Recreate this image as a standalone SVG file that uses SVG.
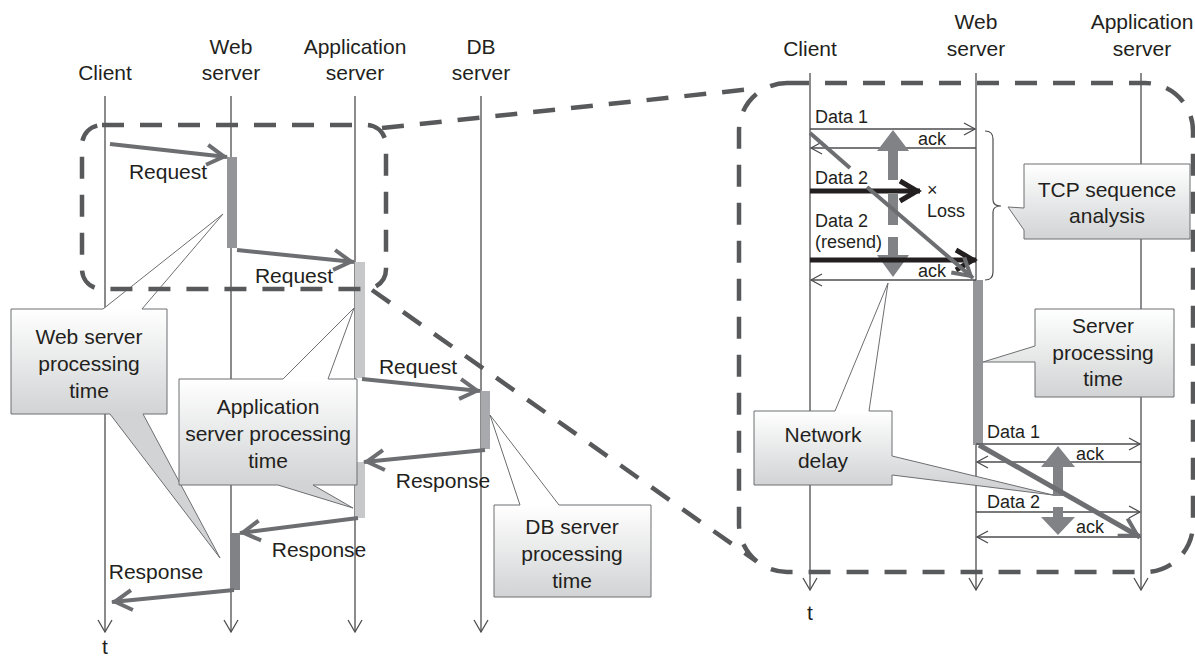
<svg xmlns="http://www.w3.org/2000/svg" width="1195" height="659" viewBox="0 0 1195 659">
<style>
.life{stroke:#4d4d4f;stroke-width:1.3;fill:none;marker-end:url(#mLife)}
.dash{stroke:#58595b;stroke-width:4.5;fill:none;stroke-dasharray:22 16}
.arr{stroke:#6d6e71;stroke-width:4;fill:none;marker-end:url(#mThick)}
.thin{stroke:#4d4d4f;stroke-width:1.3;fill:none;marker-end:url(#mThin)}
.blk{stroke:#231f20;stroke-width:5;fill:none;marker-end:url(#mBlk)}
.dbl{fill:#808285;stroke:none}
.callout{stroke:#6d6e71;stroke-width:1}
.t{font-family:"Liberation Sans",Arial,sans-serif;font-size:21px;fill:#231f20;text-anchor:middle}
.s{font-size:18px;text-anchor:start}
.e{text-anchor:end}
</style>
<defs>
<marker id="mLife" markerUnits="userSpaceOnUse" markerWidth="30" markerHeight="30" viewBox="-25 -15 30 30" refX="0" refY="0" orient="auto" overflow="visible"><path d="M-12,-7 L0,0 L-12,7" fill="none" stroke="#4d4d4f" stroke-width="1.3"/></marker>
<marker id="mThin" markerUnits="userSpaceOnUse" markerWidth="30" markerHeight="30" viewBox="-25 -15 30 30" refX="0" refY="0" orient="auto" overflow="visible"><path d="M-11,-6 L0,0 L-11,6" fill="none" stroke="#4d4d4f" stroke-width="1.3"/></marker>
<marker id="mThick" markerUnits="userSpaceOnUse" markerWidth="30" markerHeight="30" viewBox="-25 -15 30 30" refX="0" refY="0" orient="auto" overflow="visible"><path d="M-20,-10 L-3,0 L-20,10" fill="none" stroke="#6d6e71" stroke-width="4"/></marker>
<marker id="mBlk" markerUnits="userSpaceOnUse" markerWidth="30" markerHeight="30" viewBox="-25 -15 30 30" refX="0" refY="0" orient="auto" overflow="visible"><path d="M-20,-10 L-3,0 L-20,10" fill="none" stroke="#231f20" stroke-width="5"/></marker>
<linearGradient id="gA" gradientUnits="userSpaceOnUse" x1="0" y1="309" x2="0" y2="414"><stop offset="0" stop-color="#ffffff"/><stop offset="1" stop-color="#d1d3d4"/></linearGradient>
<linearGradient id="gB" gradientUnits="userSpaceOnUse" x1="0" y1="379" x2="0" y2="485"><stop offset="0" stop-color="#ffffff"/><stop offset="1" stop-color="#d1d3d4"/></linearGradient>
<linearGradient id="gC" gradientUnits="userSpaceOnUse" x1="0" y1="505" x2="0" y2="597"><stop offset="0" stop-color="#ffffff"/><stop offset="1" stop-color="#d1d3d4"/></linearGradient>
<linearGradient id="gD" gradientUnits="userSpaceOnUse" x1="0" y1="164" x2="0" y2="239"><stop offset="0" stop-color="#ffffff"/><stop offset="1" stop-color="#d1d3d4"/></linearGradient>
<linearGradient id="gE" gradientUnits="userSpaceOnUse" x1="0" y1="309" x2="0" y2="397"><stop offset="0" stop-color="#ffffff"/><stop offset="1" stop-color="#d1d3d4"/></linearGradient>
<linearGradient id="gF" gradientUnits="userSpaceOnUse" x1="0" y1="411" x2="0" y2="485"><stop offset="0" stop-color="#ffffff"/><stop offset="1" stop-color="#d1d3d4"/></linearGradient>
</defs>
<rect width="1195" height="659" fill="#ffffff"/>

<g id="lifelines">
<line class="life" x1="105" y1="96" x2="105" y2="632"/>
<line class="life" x1="231" y1="96" x2="231" y2="632"/>
<line class="life" x1="355" y1="96" x2="355" y2="632"/>
<line class="life" x1="481" y1="96" x2="481" y2="632"/>
<line class="life" x1="810" y1="73" x2="810" y2="590"/>
<line class="life" x1="976" y1="73" x2="976" y2="590"/>
<line class="life" x1="1141" y1="73" x2="1141" y2="590"/>
</g>

<g id="headers">
<text class="t" x="105" y="80">Client</text>
<text class="t" x="231" y="54">Web</text><text class="t" x="231" y="80">server</text>
<text class="t" x="355" y="54">Application</text><text class="t" x="355" y="80">server</text>
<text class="t" x="481" y="54">DB</text><text class="t" x="481" y="80">server</text>
<text class="t" x="105" y="654">t</text>
<text class="t" x="810" y="56">Client</text>
<text class="t" x="976" y="29">Web</text><text class="t" x="976" y="56">server</text>
<text class="t" x="1142" y="29">Application</text><text class="t" x="1142" y="56">server</text>
<text class="t" x="810" y="620">t</text>
</g>

<g id="bars">
<rect x="227" y="157" width="10" height="91" fill="#939598"/>
<rect x="355" y="262" width="10" height="116" fill="#c7c8ca"/>
<rect x="481" y="391" width="9" height="58" fill="#a7a9ac"/>
<rect x="355" y="462" width="10" height="56" fill="#c7c8ca"/>
<rect x="230" y="533" width="10" height="57" fill="#808285"/>
<rect x="973" y="280" width="10" height="165" fill="#939598"/>
</g>

<g id="connectors">
<path class="arr" d="M110,144 L227,157"/>
<path class="arr" d="M237,250 L354,262"/>
<path class="arr" d="M362,379 L480,391"/>
<path class="arr" d="M485,450 L364,462"/>
<path class="arr" d="M358,518 L240,533"/>
<path class="arr" d="M234,590 L112,602"/>

<path class="thin" d="M810,129 L975,129"/>
<path class="thin" d="M976,148 L811,148"/>
<path class="thin" d="M976,280 L811,280"/>
<path class="thin" d="M976,444 L1140,444"/>
<path class="thin" d="M1141,462 L977,462"/>
<path class="thin" d="M976,512 L1140,512"/>
<path class="thin" d="M1141,537 L977,537"/>

<polygon class="dbl" points="893,130 909,151 898,151 898,180 888,180 888,151 877,151"/>
<rect class="dbl" x="888" y="194" width="10" height="31"/>
<polygon class="dbl" points="888,237 898,237 898,255 909,255 893,277 877,255 888,255"/>
<polygon class="dbl" points="1058,446 1075,467 1063,467 1063,496 1053,496 1053,467 1041,467"/>
<polygon class="dbl" points="1053,507 1063,507 1063,517 1075,517 1058,535 1041,517 1053,517"/>

<path class="blk" d="M810,191 L920,191"/>
<path class="blk" d="M810,260 L976,260"/>

<path d="M810,133 L850,168" stroke="#6d6e71" stroke-width="4" fill="none"/>
<path class="arr" d="M867,187 L973,278"/>
<path class="arr" d="M979,445 L1140,537" style="stroke-width:5"/>

<path d="M985,131 Q993,131 993,139 L993,200 Q993,206 1001,206 Q993,206 993,212 L993,272 Q993,280 985,280" fill="none" stroke="#4d4d4f" stroke-width="1.2"/>
</g>

<g id="labels">
<text class="t" x="168" y="179">Request</text>
<text class="t" x="294" y="283">Request</text>
<text class="t" x="418" y="374">Request</text>
<text class="t" x="443" y="488">Response</text>
<text class="t" x="319" y="557">Response</text>
<text class="t" x="156" y="579">Response</text>
<text class="t s" x="815" y="123">Data 1</text>
<text class="t s e" x="946" y="145">ack</text>
<text class="t s" x="815" y="184">Data 2</text>
<text class="t s" x="927" y="196">×</text>
<text class="t s" x="927" y="217">Loss</text>
<text class="t s" x="815" y="227">Data 2</text>
<text class="t s" x="815" y="248">(resend)</text>
<text class="t s e" x="946" y="277">ack</text>
<text class="t s" x="987" y="438">Data 1</text>
<text class="t s e" x="1104" y="460">ack</text>
<text class="t s" x="987" y="508">Data 2</text>
<text class="t s e" x="1104" y="533">ack</text>
</g>

<g id="web-callout">
<path class="callout" fill="url(#gA)" d="M11,309 L103,309 L223,214 L142,309 L167,309 L167,414 L143,414 L220,558 L110,414 L11,414 Z"/>
<text class="t" x="89" y="344">Web server</text>
<text class="t" x="89" y="371">processing</text>
<text class="t" x="89" y="398">time</text>
</g>
<g id="app-callout">
<path class="callout" fill="url(#gB)" d="M179,379 L283,379 L354,308 L328,379 L357,379 L357,485 L313,485 L353,508 L278,485 L179,485 Z"/>
<text class="t" x="268" y="414">Application</text>
<text class="t" x="268" y="441">server processing</text>
<text class="t" x="268" y="468">time</text>
</g>
<g id="db-callout">
<path class="callout" fill="url(#gC)" d="M494,505 L520,505 L490,415 L559,505 L651,505 L651,597 L494,597 Z"/>
<text class="t" x="572" y="534">DB server</text>
<text class="t" x="572" y="561">processing</text>
<text class="t" x="572" y="588">time</text>
</g>
<g id="tcp-callout">
<path class="callout" fill="url(#gD)" d="M1024,164 L1190,164 L1190,239 L1024,239 L1024,230 L1008,207 L1024,208 Z"/>
<text class="t" x="1107" y="197">TCP sequence</text>
<text class="t" x="1107" y="223">analysis</text>
</g>
<g id="server-callout">
<path class="callout" fill="url(#gE)" d="M1035,309 L1174,309 L1174,397 L1035,397 L1035,362 L983,362 L1035,346 Z"/>
<text class="t" x="1103" y="333">Server</text>
<text class="t" x="1103" y="360">processing</text>
<text class="t" x="1103" y="386">time</text>
</g>
<g id="network-callout">
<path class="callout" fill="url(#gF)" d="M754,411 L835,411 L888,283 L869,411 L892,411 L892,456 L1053,495 L892,475 L892,485 L754,485 Z"/>
<text class="t" x="823" y="442">Network</text>
<text class="t" x="823" y="468">delay</text>
</g>

<g id="zoom-frames">
<rect class="dash" x="82" y="125" width="304" height="164" rx="20"/>
<rect class="dash" x="739" y="83" width="454" height="489" rx="48"/>
<path class="dash" d="M382,128 L752,89"/>
<path class="dash" d="M372,290 L756,561"/>
</g>
</svg>
